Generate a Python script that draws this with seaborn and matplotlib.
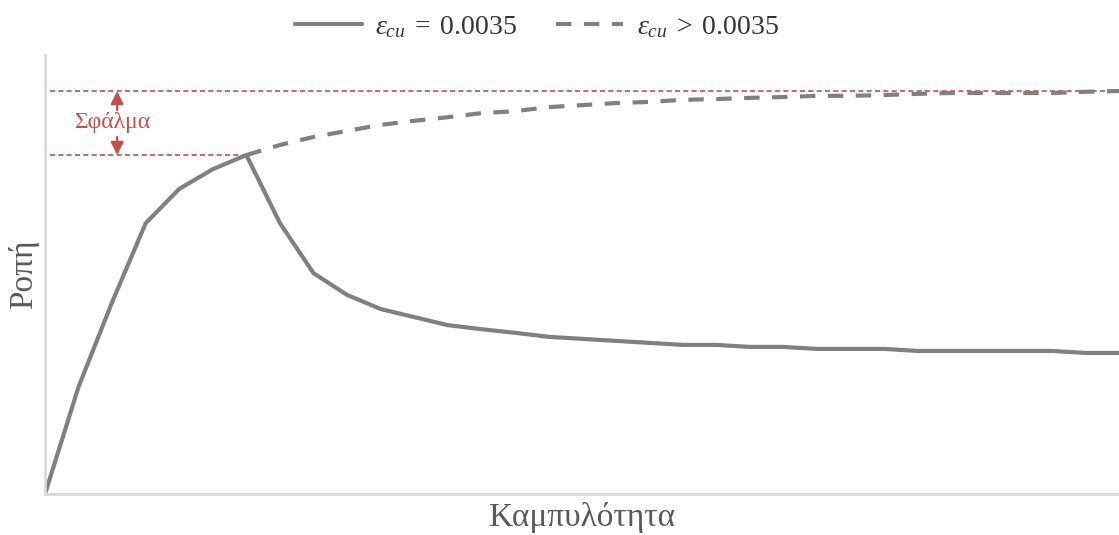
import numpy as np
import pandas as pd
import matplotlib
matplotlib.use("Agg")
import matplotlib.pyplot as plt
import seaborn as sns

# Curvature steps (arbitrary units)
curvature = list(range(33))

# Moment with ultimate strain limited to 0.0035
moment_limited = [0.0, 26.6, 47.6, 67.2, 75.7, 80.6, 84.1, 67.2, 54.8, 49.4, 45.9,
                  43.9, 41.9, 40.9, 40.0, 39.0, 38.5, 38.0, 37.5, 37.0, 37.0, 36.5,
                  36.5, 36.0, 36.0, 36.0, 35.5, 35.5, 35.5, 35.5, 35.5, 35.0, 35.0]

# Moment continuing past the peak with a larger ultimate strain
curvature_ext = list(range(6, 33))
moment_ext = [84.1, 86.6, 88.6, 90.1, 91.6, 92.6, 93.5, 94.5, 95.0, 96.0, 96.5, 97.0,
              97.3, 97.8, 98.0, 98.3, 98.5, 98.8, 98.8, 99.0, 99.3, 99.5, 99.5, 99.5,
              99.5, 99.8, 100.0]

label_limited = r"$\varepsilon_{cu}\;=\;0.0035$"
label_ext = r"$\varepsilon_{cu}\;>\;0.0035$"
error_label = "Σφάλμα"
x_label = "Καμπυλότητα"
y_label = "Ροπή"

sns.set_style("white")
plt.rcParams["font.family"] = ["Liberation Serif", "DejaVu Serif"]
plt.rcParams["mathtext.fontset"] = "custom"
plt.rcParams["mathtext.rm"] = "Liberation Serif"
plt.rcParams["mathtext.it"] = "Liberation Serif:italic"

GRAY = "#808080"
RED = "#c0504d"
TEXT = "#595959"

df1 = pd.DataFrame({"x": curvature, "y": moment_limited, "s": label_limited})
df2 = pd.DataFrame({"x": curvature_ext, "y": moment_ext, "s": label_ext})

fig = plt.figure(figsize=(11.19, 5.35), dpi=100)
ax = fig.add_axes([45 / 1119, 41 / 535, 1 - 45 / 1119, (494 - 55) / 535])

sns.lineplot(data=df1, x="x", y="y", ax=ax, color=GRAY, lw=3, label=label_limited)
sns.lineplot(data=df2, x="x", y="y", ax=ax, color=GRAY, lw=3, dashes=False,
             label=label_ext)
ax.lines[-1].set_dashes((3.7, 3.0))

peak = max(moment_limited)
top = moment_ext[-1]
x_end = curvature[-1]

# Error band between the capped peak and the extended capacity
ax.plot([0.15, x_end], [top, top], color=RED, lw=1.2, dashes=(3, 2), zorder=1)
ax.plot([0.15, curvature[moment_limited.index(peak)]], [peak, peak], color=RED,
        lw=1.2, dashes=(3, 2), zorder=1)
xa = 2.15
arrow = dict(arrowstyle="-|>,head_length=0.7,head_width=0.35", color=RED, lw=1.6,
             mutation_scale=11, shrinkA=0, shrinkB=0)
ax.annotate("", xy=(xa, top), xytext=(xa, top - 4.7), arrowprops=arrow)
ax.annotate("", xy=(xa, peak), xytext=(xa, peak + 4.5), arrowprops=arrow)
ax.text(2.0, (top + peak) / 2 + 0.2, error_label, color=RED, fontsize=17,
        ha="center", va="center")

ax.set_xlim(0, x_end)
ax.set_ylim(0, (494 - 55) / 4.03)
ax.set_xticks([])
ax.set_yticks([])
ax.set_xlabel(x_label, fontsize=24, color=TEXT, labelpad=6)
ax.set_ylabel(y_label, fontsize=24, color=TEXT, labelpad=4)

for side in ("top", "right"):
    ax.spines[side].set_visible(False)
for side in ("left", "bottom"):
    ax.spines[side].set_color("#d9d9d9")
    ax.spines[side].set_linewidth(2)

ax.legend(loc="upper center", bbox_to_anchor=(0.458, 1.15), ncol=2,
          frameon=False, fontsize=20, handlelength=2.4, columnspacing=1.4,
          handletextpad=0.5, labelcolor="#333333")

fig.savefig("out.png", dpi=100)
